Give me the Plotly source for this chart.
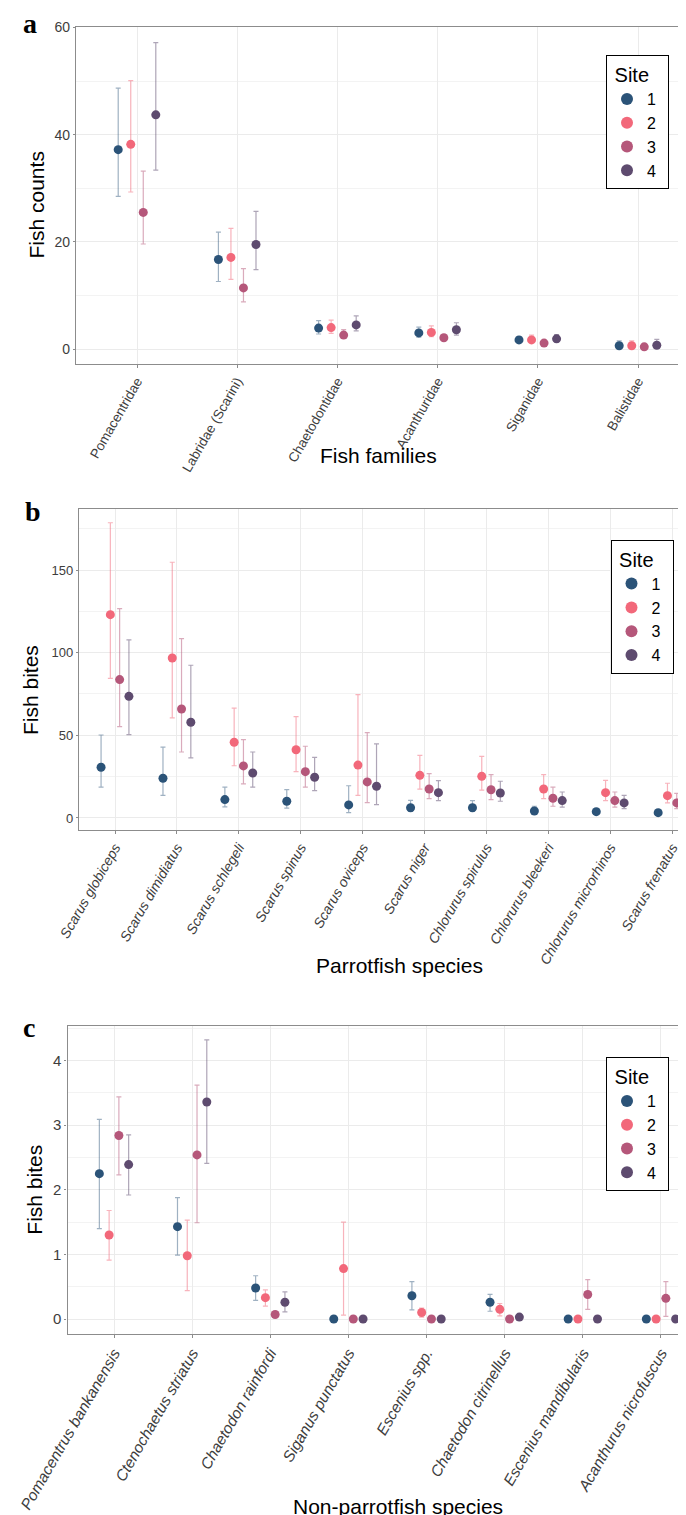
import plotly.graph_objects as go

# ---------------- data ----------------
sites = ["1", "2", "3", "4"]
site_colors = ["#2B5378", "#F2687A", "#B5577A", "#5E4B6F"]
bar_colors = ["rgba(43,83,120,0.45)", "rgba(242,104,122,0.5)",
              "rgba(181,87,122,0.5)", "rgba(94,75,111,0.5)"]

# Panel a: fish families (counts)
fam_cats = ["Pomacentridae", "Labridae (Scarini)", "Chaetodontidae",
            "Acanthuridae", "Siganidae", "Balistidae"]
fam_mean = [[37.2, 16.7, 3.9, 3.0, 1.7, 0.6],
            [38.2, 17.1, 4.0, 3.1, 1.7, 0.6],
            [25.5, 11.4, 2.6, 2.1, 1.1, 0.4],
            [43.7, 19.5, 4.5, 3.6, 1.9, 0.7]]
fam_upper = [[48.7, 21.8, 5.3, 4.1, 2.3, 1.5],
             [50.1, 22.5, 5.4, 4.3, 2.6, 1.5],
             [33.2, 15.0, 3.6, 2.7, 1.6, 0.9],
             [57.2, 25.7, 6.2, 4.9, 2.7, 1.8]]
fam_lower = [[28.5, 12.6, 2.8, 2.2, 1.2, 0.1],
             [29.3, 13.0, 2.9, 2.3, 1.2, 0.1],
             [19.6, 8.8, 2.1, 1.6, 0.7, 0.0],
             [33.4, 14.8, 3.4, 2.6, 1.3, 0.2]]

# Panel b: parrotfish species (bites)
par_cats = ["Scarus globiceps", "Scarus dimidiatus", "Scarus schlegeli",
            "Scarus spinus", "Scarus oviceps", "Scarus niger",
            "Chlorurus spirulus", "Chlorurus bleekeri",
            "Chlorurus microrhinos", "Scarus frenatus"]
par_mean = [[30.7, 24.0, 11.1, 10.1, 7.9, 6.2, 6.2, 4.2, 3.8, 3.2],
            [123.0, 96.8, 45.8, 41.3, 32.0, 25.8, 25.2, 17.5, 15.3, 13.5],
            [83.7, 65.9, 31.5, 28.0, 21.8, 17.5, 17.1, 11.9, 10.5, 9.1],
            [73.6, 57.9, 27.2, 24.6, 19.2, 15.3, 15.1, 10.5, 9.1, 7.9]]
par_upper = [[50.2, 42.8, 18.6, 17.1, 19.5, 10.7, 10.5, 7.1, 5.6, 4.8],
             [178.6, 154.7, 66.5, 61.3, 74.6, 37.9, 37.3, 26.2, 22.8, 21.0],
             [126.6, 108.5, 47.4, 43.4, 51.6, 26.8, 26.2, 18.6, 15.7, 14.9],
             [107.7, 92.4, 39.9, 36.7, 44.8, 22.6, 22.2, 15.7, 13.7, 12.7]]
par_lower = [[18.6, 13.7, 6.7, 6.0, 3.2, 4.0, 4.0, 2.4, 2.4, 2.0],
             [84.5, 60.5, 31.6, 28.0, 13.7, 17.5, 16.9, 11.7, 10.5, 9.1],
             [55.2, 39.9, 20.6, 18.6, 9.3, 11.7, 11.1, 7.1, 6.5, 5.6],
             [50.4, 36.3, 18.6, 16.5, 8.1, 10.5, 10.1, 6.5, 5.6, 5.0]]

# Panel c: non-parrotfish species (bites)
non_cats = ["Pomacentrus bankanensis", "Ctenochaetus striatus",
            "Chaetodon rainfordi", "Siganus punctatus", "Escenius spp.",
            "Chaetodon citrinellus", "Escenius mandibularis",
            "Acanthurus nicrofuscus"]
non_mean = [[2.25, 1.43, 0.48, 0.00, 0.36, 0.26, 0.00, 0.00],
            [1.30, 0.98, 0.33, 0.78, 0.10, 0.15, 0.00, 0.00],
            [2.84, 2.54, 0.07, 0.00, 0.00, 0.00, 0.38, 0.32],
            [2.39, 3.36, 0.26, 0.00, 0.00, 0.03, 0.00, 0.00]]
non_upper = [[3.09, 1.88, 0.67, 0.00, 0.58, 0.38, 0.00, 0.00],
             [1.68, 1.53, 0.45, 1.50, 0.17, 0.24, 0.00, 0.00],
             [3.44, 3.62, 0.10, 0.00, 0.00, 0.00, 0.61, 0.58],
             [2.85, 4.32, 0.42, 0.00, 0.00, 0.05, 0.00, 0.00]]
non_lower = [[1.40, 0.99, 0.29, 0.00, 0.14, 0.12, 0.00, 0.00],
             [0.91, 0.44, 0.20, 0.06, 0.03, 0.05, 0.00, 0.00],
             [2.23, 1.49, 0.04, 0.00, 0.00, 0.00, 0.15, 0.04],
             [1.92, 2.41, 0.11, 0.00, 0.00, 0.01, 0.00, 0.00]]

# ---------------- figure ----------------
W, H = 686, 1515
SANS = "Liberation Sans, Arial, sans-serif"
SERIF = "Liberation Serif, Times New Roman, serif"

fig = go.Figure()


def px_x(p):
    return p / W


def px_y(p):
    return 1 - p / H


def add_panel(cats, mean, upper, lower, xa, ya, legend, dodge):
    n = len(sites)
    for s in range(n):
        off = (s - (n - 1) / 2) * dodge
        xs = [i + 1 + off for i in range(len(cats))]
        plus = [u - m for u, m in zip(upper[s], mean[s])]
        minus = [m - l for m, l in zip(mean[s], lower[s])]
        fig.add_trace(go.Scatter(
            x=xs, y=mean[s], mode="markers", name=sites[s],
            xaxis=xa, yaxis=ya, legend=legend,
            marker=dict(color=site_colors[s], size=9, line=dict(width=0)),
            error_y=dict(type="data", array=plus, arrayminus=minus,
                         symmetric=False, color=bar_colors[s],
                         thickness=1.2, width=2.5),
            showlegend=True, hoverinfo="skip",
        ))


add_panel(fam_cats, fam_mean, fam_upper, fam_lower, "x", "y", "legend", 0.125)
add_panel(par_cats, par_mean, par_upper, par_lower, "x2", "y2", "legend2", 0.15)
add_panel(non_cats, non_mean, non_upper, non_lower, "x3", "y3", "legend3", 0.125)

grid_col = "#EBEBEB"
line_col = "#8C8C8C"
tick_col = "#3D3D3D"


def xaxis_cfg(cats, left_px, spacing, first_off_px, anchor, size, italic):
    lo = 1 - first_off_px / spacing
    hi = lo + (W - left_px) / spacing
    return dict(
        domain=[px_x(left_px), 1], range=[lo, hi], anchor=anchor,
        automargin=False,
        tickmode="array", tickvals=list(range(1, len(cats) + 1)),
        ticktext=cats, tickangle=-60,
        tickfont=dict(family=SANS, size=size, color=tick_col,
                      style="italic" if italic else "normal"),
        showgrid=True, gridcolor=grid_col, gridwidth=1,
        showline=True, linecolor=line_col, linewidth=1.2, mirror=True,
        ticks="outside", ticklen=3, tickcolor=line_col, zeroline=False,
    )


def yaxis_cfg(top_px, bot_px, rng, dtick, anchor, size):
    return dict(
        domain=[px_y(bot_px), px_y(top_px)], range=rng, anchor=anchor,
        automargin=False,
        dtick=dtick, tick0=0,
        tickfont=dict(family=SANS, size=size, color=tick_col),
        showgrid=True, gridcolor=grid_col, gridwidth=1,
        minor=dict(dtick=dtick / 2, showgrid=True, gridcolor="#F3F3F3",
                   gridwidth=1),
        showline=True, linecolor=line_col, linewidth=1.2, mirror=False,
        ticks="outside", ticklen=2, tickcolor=line_col, zeroline=False,
    )


fig.update_layout(
    template="none",
    width=W, height=H, margin=dict(l=0, r=0, t=0, b=0, autoexpand=False),
    paper_bgcolor="white", plot_bgcolor="white",
    xaxis=xaxis_cfg(fam_cats, 68, 100.2, 61, "y", 13.5, False),
    yaxis=yaxis_cfg(19, 356, [-2.8, 60.1], 20, "x", 14),
    xaxis2=xaxis_cfg(par_cats, 71, 61.9, 36, "y2", 14, True),
    yaxis2=yaxis_cfg(500.7, 821.7, [-7.1, 187.1], 50, "x2", 13),
    xaxis3=xaxis_cfg(non_cats, 59.5, 78.14, 46.5, "y3", 15.5, True),
    yaxis3=yaxis_cfg(1018.3, 1326, [-0.232, 4.531], 1, "x3", 15),
)

leg_common = dict(
    bgcolor="white", bordercolor="black", borderwidth=1,
    font=dict(family=SANS, size=16, color="black"),
    title=dict(text="\u00a0Site\u00a0\u00a0\u00a0",
               font=dict(family=SANS, size=20, color="black")),
    xanchor="left", yanchor="top", itemsizing="constant",
)
fig.update_layout(
    legend=dict(x=px_x(598), y=px_y(47), **leg_common),
    legend2=dict(x=px_x(602.5), y=px_y(531.7), **leg_common),
    legend3=dict(x=px_x(598), y=px_y(1049), **leg_common),
)

ann = []
# panel letters
for letter, cx, cy in [("a", 22, 16), ("b", 25, 503), ("c", 21, 1019)]:
    ann.append(dict(text=f"<b>{letter}</b>", x=px_x(cx), y=px_y(cy),
                    xref="paper", yref="paper", showarrow=False,
                    xanchor="center", yanchor="middle",
                    font=dict(family=SERIF, size=28, color="black")))
# axis titles
for txt, cx, cy in [("Fish families", 370, 447),
                    ("Parrotfish species", 391, 957),
                    ("Non-parrotfish species", 390, 1498)]:
    ann.append(dict(text=txt, x=px_x(cx), y=px_y(cy), xref="paper",
                    yref="paper", showarrow=False, xanchor="center",
                    yanchor="middle",
                    font=dict(family=SANS, size=21, color="black")))
for txt, cx, cy in [("Fish counts", 28, 196.5),
                    ("Fish bites", 22, 682),
                    ("Fish bites", 27, 1181.7)]:
    ann.append(dict(text=txt, x=px_x(cx), y=px_y(cy), xref="paper",
                    yref="paper", showarrow=False, xanchor="center",
                    yanchor="middle", textangle=-90,
                    font=dict(family=SANS, size=21, color="black")))
fig.update_layout(annotations=ann)

fig.write_html("out.html")
